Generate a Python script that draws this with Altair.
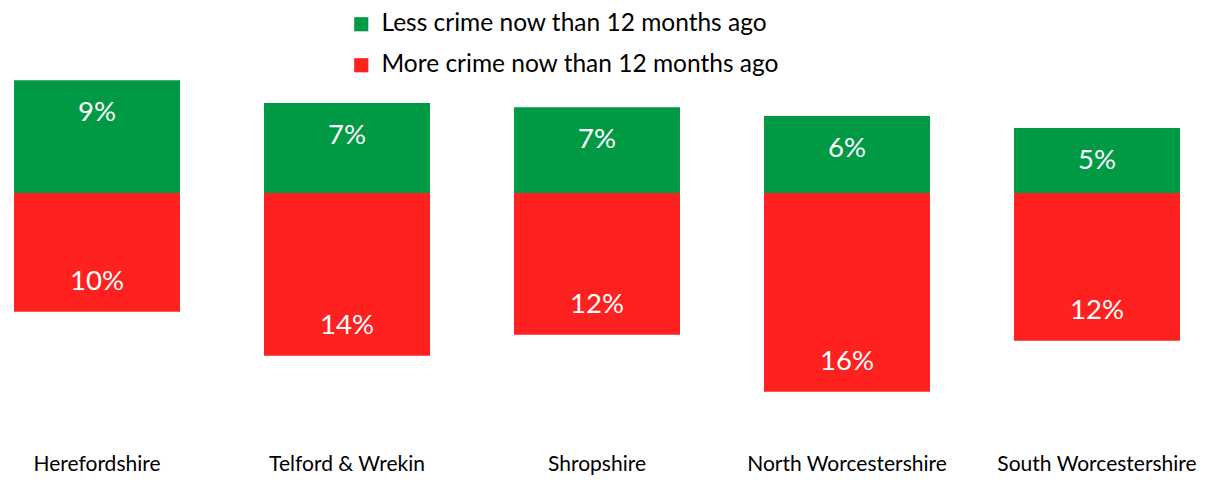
import altair as alt
import pandas as pd

regions = ["Herefordshire", "Telford & Wrekin", "Shropshire", "North Worcestershire", "South Worcestershire"]
less_crime = [9.36, 7.46, 7.12, 6.38, 5.39]
more_crime = [9.86, 13.5, 11.76, 16.49, 12.26]
series = ["Less crime now than 12 months ago", "More crime now than 12 months ago"]
colors = ["#009A44", "#FF2020"]

rows = []
for r, l, m in zip(regions, less_crime, more_crime):
    rows.append({"region": r, "series": series[0], "value": l, "label": f"{round(l)}%"})
    rows.append({"region": r, "series": series[1], "value": -m, "label": f"{round(m)}%"})
df = pd.DataFrame(rows)

FONT = "Lato"

x = alt.X("region:N", sort=regions, title=None,
          scale=alt.Scale(paddingInner=0.336, paddingOuter=0),
          axis=alt.Axis(domain=False, ticks=False, labelAngle=0, labelFont=FONT,
                        labelFontSize=21, labelColor="#000000", labelPadding=19,
                        labelLimit=300))
y = alt.Y("value:Q", title=None, scale=alt.Scale(domain=[-20, 14.35], nice=False, zero=False),
          axis=None)

bars = alt.Chart(df).mark_bar().encode(
    x=x, y=y, y2=alt.datum(0),
    color=alt.Color("series:N", sort=series,
                    scale=alt.Scale(domain=series, range=colors),
                    legend=alt.Legend(title=None, orient="none", legendX=335, legendY=-8,
                                      symbolType="square", symbolSize=200,
                                      symbolStrokeWidth=0, labelFont=FONT,
                                      labelFontSize=24.5, labelColor="#000000",
                                      rowPadding=16, labelLimit=600, labelOffset=8)),
)

text_up = alt.Chart(df[df["value"] > 0]).mark_text(
    color="white", font=FONT, fontSize=27.5, baseline="middle", dy=33
).encode(x=alt.X("region:N", sort=regions), y="value:Q", text="label:N")

text_down = alt.Chart(df[df["value"] < 0]).mark_text(
    color="white", font=FONT, fontSize=27.5, baseline="middle", dy=-30
).encode(x=alt.X("region:N", sort=regions), y="value:Q", text="label:N")

chart = alt.layer(bars, text_up, text_down).properties(
    width=1166, height=414,
    autosize=alt.AutoSizeParams(type="none"),
    padding={"left": 6, "top": 12, "right": 17, "bottom": 41},
).configure_view(stroke=None)

chart.save("out.html", embed_options={"renderer": "svg", "actions": False})
